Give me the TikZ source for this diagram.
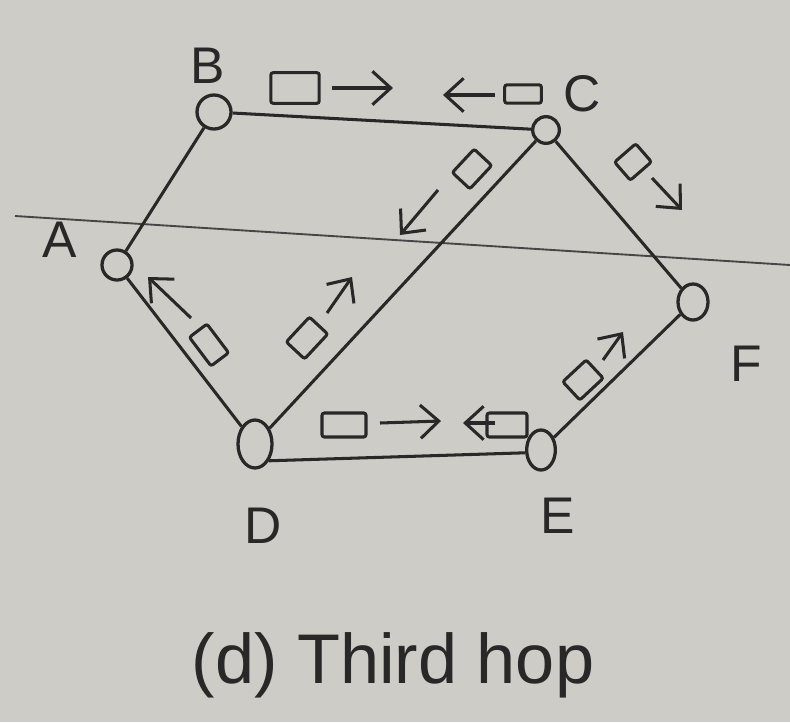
\documentclass[tikz,border=0pt]{standalone}
\usepackage{fontspec}
\setmainfont{Liberation Sans}
\usetikzlibrary{arrows.meta, shapes.geometric}

\definecolor{paper}{RGB}{206,204,199}
\definecolor{ink}{RGB}{40,40,40}
\definecolor{rule}{RGB}{70,70,70}

\tikzset{
  router/.style={draw=ink, line width=2.8pt, ellipse, inner sep=0pt},
  link/.style={draw=ink, line width=2.6pt},
  packet/.style={draw=ink, line width=2.6pt, rounded corners=2pt, inner sep=0pt},
  msg/.style={draw=ink, line width=2.6pt, -{Straight Barb[length=5.5mm, width=10mm]}},
  tag/.style={text=ink, font=\fontsize{44}{50}\selectfont}
}

\begin{document}
\begin{tikzpicture}[x=0.03cm, y=-0.03cm]
    % paper
    \fill[paper] (0,0) rectangle (790,722);
    \useasboundingbox (0,0) rectangle (790,722);
    \draw[rule, line width=1.6pt] (15,216) -- (790,265);

    % Routers
    \node[router, minimum width=1.02cm, minimum height=1.02cm] (B) at (214,112) {};
    \node[router, minimum width=0.8cm, minimum height=0.8cm] (C) at (546,130) {};
    \node[router, minimum width=0.9cm, minimum height=0.9cm] (A) at (117,265) {};
    \node[router, minimum width=1.02cm, minimum height=1.44cm] (D) at (255,444) {};
    \node[router, minimum width=0.86cm, minimum height=1.2cm] (E) at (541,450) {};
    \node[router, minimum width=0.9cm, minimum height=1.08cm] (F) at (693,302) {};

    % Labels
    \node[tag] (lB) at (208,66) {B};
    \node[tag] (lC) at (582,94) {C};
    \node[tag] (lA) at (60,240) {A};
    \node[tag] (lF) at (746,364) {F};
    \node[tag] (lD) at (263,526) {D};
    \node[tag] (lE) at (558,516) {E};

    % Links
    \draw[link] (B) -- (C);
    \draw[link] (B) -- (A);
    \draw[link] (A) -- (D);
    \draw[link] (D) -- (C);
    \draw[link] (C) -- (F);
    \draw[link] (F) -- (E);
    \draw[link] (D.-50) -- (E.190);

    % Packets on B--C
    \node[packet, minimum width=1.45cm, minimum height=0.92cm] (pbc1) at (295,88) {};
    \draw[msg] (pbc1) ++(37,0) -- ++(61,0);
    \node[packet, minimum width=1.1cm, minimum height=0.55cm] (pbc2) at (523,94) {};
    \draw[msg] (pbc2) ++(-28,1) -- ++(-52,0);

    % Packets on C--D
    \node[packet, rotate=47, minimum width=0.96cm, minimum height=0.72cm] (pcd1) at (472,169) {};
    \draw[msg] (pcd1) ++(-34,21) -- ++(-38,45);
    \node[packet, rotate=47, minimum width=1.02cm, minimum height=0.75cm] (pcd2) at (307,338) {};
    \draw[msg] (pcd2) ++(20,-25) -- ++(25,-36);

    % Packet on C--F
    \node[packet, rotate=-49, minimum width=0.72cm, minimum height=0.84cm] (pcf) at (633,162) {};
    \draw[msg] (pcf) ++(19,16) -- ++(30,32);

    % Packet on A--D
    \node[packet, rotate=-53, minimum width=1.08cm, minimum height=0.66cm] (pad) at (209,345) {};
    \draw[msg] (pad) ++(-18,-27) -- ++(-43,-41);

    % Packets on D--E
    \node[packet, minimum width=1.32cm, minimum height=0.72cm] (pde1) at (344,425) {};
    \draw[msg] (pde1) ++(36,-2) -- ++(61,-2);
    \node[packet, minimum width=1.2cm, minimum height=0.72cm] (pde2) at (507,425) {};
    \draw[msg] (pde2) ++(-12,-2) -- ++(-32,0);

    % Packet on E--F
    \node[packet, rotate=43, minimum width=0.96cm, minimum height=0.75cm] (pef) at (583,380) {};
    \draw[msg] (pef) ++(20,-20) -- ++(20,-28);

    % Caption
    \node[text=ink, font=\fontsize{60}{66}\selectfont] (cap) at (393,665) {(d) Third hop};
\end{tikzpicture}
\end{document}
